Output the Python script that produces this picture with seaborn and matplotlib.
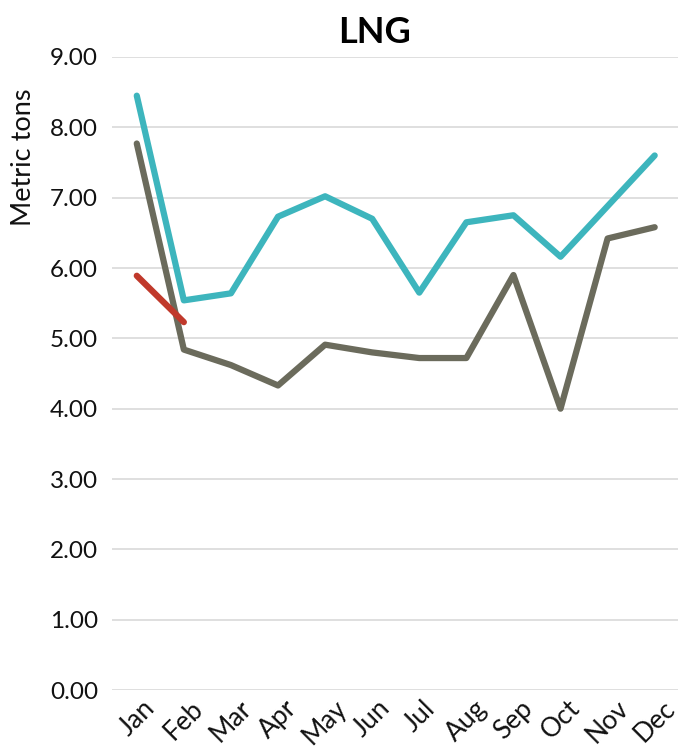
import matplotlib
matplotlib.use("Agg")
import matplotlib.pyplot as plt
import seaborn as sns
import pandas as pd

months = ["Jan", "Feb", "Mar", "Apr", "May", "Jun",
          "Jul", "Aug", "Sep", "Oct", "Nov", "Dec"]
teal_values = [8.45, 5.54, 5.64, 6.73, 7.02, 6.70, 5.65, 6.65, 6.75, 6.16, 6.88, 7.60]
gray_values = [7.77, 4.84, 4.62, 4.33, 4.91, 4.80, 4.72, 4.72, 5.90, 4.00, 6.42, 6.58]
red_months = ["Jan", "Feb"]
red_values = [5.89, 5.23]
yticks = [0, 1, 2, 3, 4, 5, 6, 7, 8, 9]

sns.set_theme(style="white")
plt.rcParams["font.family"] = ["Lato", "DejaVu Sans"]

fig = plt.figure(figsize=(6.86, 7.48), dpi=100)
ax = fig.add_axes([0.163, 0.0775, 0.825, 0.8463])

pos = {m: i for i, m in enumerate(months)}
df_teal = pd.DataFrame({"x": [pos[m] for m in months], "y": teal_values})
df_gray = pd.DataFrame({"x": [pos[m] for m in months], "y": gray_values})
df_red = pd.DataFrame({"x": [pos[m] for m in red_months], "y": red_values})

sns.lineplot(data=df_gray, x="x", y="y", ax=ax, color="#6b6b5c", linewidth=4.5)
sns.lineplot(data=df_teal, x="x", y="y", ax=ax, color="#3db5bd", linewidth=4.5)
sns.lineplot(data=df_red, x="x", y="y", ax=ax, color="#c0392b", linewidth=4.5)

ax.set_xlim(-0.53, 11.49)
ax.set_ylim(0, 9)
ax.set_yticks(yticks)
ax.set_yticklabels([f"{v:.2f}" for v in yticks], fontsize=17.5)
ax.set_xticks(range(len(months)))
ax.set_xticklabels(months, rotation=45, fontsize=19, ha="center",
                   rotation_mode="default")
ax.grid(axis="y", color="#d9d9d9", linewidth=1.2)
ax.set_axisbelow(True)
for s in ax.spines.values():
    s.set_visible(False)
ax.tick_params(axis="y", length=0, pad=10, colors="#111111")
ax.tick_params(axis="x", length=0, pad=4, colors="#111111")
ax.set_xlabel("")
ax.set_ylabel("Metric tons", fontsize=19.5, color="#111111")
ax.yaxis.set_label_coords(-0.134, 0.842)
ax.set_title("LNG", fontsize=26, fontweight="bold", pad=10, color="#000000",
             x=0.465)

fig.savefig("out.png", dpi=100)
